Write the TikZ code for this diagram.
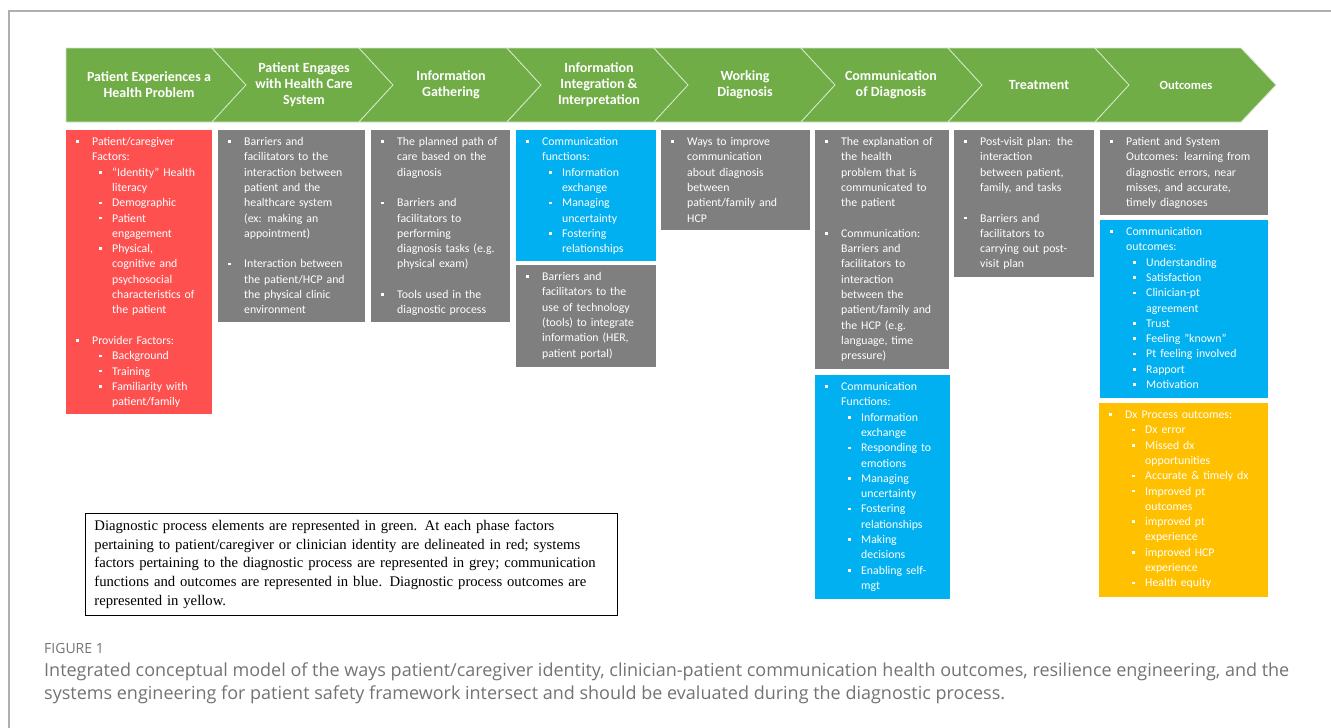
\documentclass[tikz,border=0pt]{standalone}
\usepackage{fontspec}
\setmainfont{Carlito}
\newfontfamily\captionfont{Open Sans}
\newfontfamily\legendfont{Liberation Serif}

\definecolor{chevgreen}{RGB}{112,173,71}
\definecolor{boxgrey}{RGB}{127,127,127}
\definecolor{boxred}{RGB}{255,80,80}
\definecolor{boxblue}{RGB}{0,176,240}
\definecolor{boxyellow}{RGB}{255,192,0}
\definecolor{framegrey}{RGB}{175,175,175}
\definecolor{captiongrey}{RGB}{115,115,115}

% bullets inside the coloured boxes
\newcommand{\bulletmark}{\raisebox{2.6pt}{\rule{2.6pt}{2.6pt}}}
\newcommand{\bul}{\par\leftskip=26pt\noindent\llap{\makebox[16pt][l]{\bulletmark}}}
\newcommand{\subbul}{\par\leftskip=46pt\noindent\llap{\makebox[13pt][l]{\bulletmark}}}
\newcommand{\blankline}{\par\vspace{15.3pt}}

\tikzset{
  chev/.style={fill=chevgreen, draw=white!70!chevgreen, line width=0.8pt},
  headtext/.style={text=white, font=\bfseries\fontsize{14}{16}\selectfont, align=center, inner sep=0pt},
  greybox/.style={fill=boxgrey},
  redbox/.style={fill=boxred},
  bluebox/.style={fill=boxblue},
  yellowbox/.style={fill=boxyellow},
  boxtext/.style={anchor=north west, inner sep=0pt, text=white, align=left,
    font=\fontsize{11.8}{15.3}\selectfont},
}

\begin{document}
\begin{tikzpicture}[x=1pt, y=-1pt]
	\useasboundingbox (0,0) rectangle (1331,728);
	
	% frame
	\draw [framegrey, line width=1.5pt] (1331,11) -- (9,11) -- (9,728);
	
	% chevrons
	\fill [chev] (66,48) -- (212,48) -- (246,85) -- (212,122) -- (66,122) -- cycle;
	\draw [chev] (212,48) -- (359,48) -- (393,85) -- (359,122) -- (212,122) -- (246,85) -- cycle;
	\draw [chev] (359,48) -- (507,48) -- (541,85) -- (507,122) -- (359,122) -- (393,85) -- cycle;
	\draw [chev] (507,48) -- (654,48) -- (688,85) -- (654,122) -- (507,122) -- (541,85) -- cycle;
	\draw [chev] (654,48) -- (801,48) -- (835,85) -- (801,122) -- (654,122) -- (688,85) -- cycle;
	\draw [chev] (801,48) -- (948,48) -- (982,85) -- (948,122) -- (801,122) -- (835,85) -- cycle;
	\draw [chev] (948,48) -- (1095,48) -- (1129,85) -- (1095,122) -- (948,122) -- (982,85) -- cycle;
	\draw [chev] (1095,48) -- (1241,48) -- (1276,85) -- (1241,122) -- (1095,122) -- (1129,85) -- cycle;
	
	% phase names
	\node [headtext] (experience) at (149,85) {Patient Experiences a\\Health Problem};
	\node [headtext] (engage) at (304,85) {Patient Engages\\with Health Care\\System};
	\node [headtext] (gathering) at (451,85) {Information\\Gathering};
	\node [headtext] (integration) at (599,85) {Information\\Integration \&\\Interpretation};
	\node [headtext] (working) at (745,85) {Working\\Diagnosis};
	\node [headtext] (communication) at (891,85) {Communication\\of Diagnosis};
	\node [headtext] (treatment) at (1039,85) {Treatment};
	\node [headtext, font=\bfseries\fontsize{12.5}{14}\selectfont] (outcomes) at (1186,85) {Outcomes};
	
	% boxes
	\fill [redbox] (66,130) rectangle (212,414);  % identity factors
	\node [boxtext, text width=146pt] (factors) at (66,130) {%
		\bul Patient/caregiver\newline Factors:
		\subbul ``Identity'' Health\newline literacy
		\subbul Demographic
		\subbul Patient\newline engagement
		\subbul Physical,\newline cognitive and\newline psychosocial\newline characteristics of\newline the patient
		\blankline
		\bul Provider Factors:
		\subbul Background
		\subbul Training
		\subbul Familiarity with\newline patient/family\par};
	
	\fill [greybox] (218,130) rectangle (365,322);  % system access
	\node [boxtext, text width=147pt] (access) at (218,130) {%
		\bul Barriers and\newline facilitators to the\newline interaction between\newline patient and the\newline healthcare system\newline (ex: making an\newline appointment)
		\blankline
		\bul Interaction between\newline the patient/HCP and\newline the physical clinic\newline environment\par};
	
	\fill [greybox] (371,130) rectangle (510,322);  % gathering
	\node [boxtext, text width=139pt] (tasks) at (371,130) {%
		\bul The planned path of\newline care based on the\newline diagnosis
		\blankline
		\bul Barriers and\newline facilitators to\newline performing\newline diagnosis tasks (e.g.\newline physical exam)
		\blankline
		\bul Tools used in the\newline diagnostic process\par};
	
	\fill [bluebox] (516,130) rectangle (656,261);  % integration, communication
	\node [boxtext, text width=140pt] (functions) at (516,130) {%
		\bul Communication\newline functions:
		\subbul Information\newline exchange
		\subbul Managing\newline uncertainty
		\subbul Fostering\newline relationships\par};
	
	\fill [greybox] (516,265) rectangle (656,367);  % integration, technology
	\node [boxtext, text width=140pt] (technology) at (516,265) {%
		\bul Barriers and\newline facilitators to the\newline use of technology\newline (tools) to integrate\newline information (HER,\newline patient portal)\par};
	
	\fill [greybox] (661,130) rectangle (810,230);  % working diagnosis
	\node [boxtext, text width=149pt] (improve) at (661,130) {%
		\bul Ways to improve\newline communication\newline about diagnosis\newline between\newline patient/family and\newline HCP\par};
	
	\fill [greybox] (815,130) rectangle (949,369);  % explanation
	\node [boxtext, text width=134pt] (explanation) at (815,130) {%
		\bul The explanation of\newline the health\newline problem that is\newline communicated to\newline the patient
		\blankline
		\bul Communication:\newline Barriers and\newline facilitators to\newline interaction\newline between the\newline patient/family and\newline the HCP (e.g.\newline language, time\newline pressure)\par};
	
	\fill [bluebox] (815,375) rectangle (950,599);  % communication functions
	\node [boxtext, text width=135pt] (morefunctions) at (815,375) {%
		\bul Communication\newline Functions:
		\subbul Information\newline exchange
		\subbul Responding to\newline emotions
		\subbul Managing\newline uncertainty
		\subbul Fostering\newline relationships
		\subbul Making\newline decisions
		\subbul Enabling self-\newline mgt\par};
	
	\fill [greybox] (954,130) rectangle (1094,277);  % treatment
	\node [boxtext, text width=140pt] (postvisit) at (954,130) {%
		\bul Post-visit plan: the\newline interaction\newline between patient,\newline family, and tasks
		\blankline
		\bul Barriers and\newline facilitators to\newline carrying out post-\newline visit plan\par};
	
	\fill [greybox] (1100,130) rectangle (1268,215);  % system outcomes
	\node [boxtext, text width=168pt] (system) at (1100,130) {%
		\bul Patient and System\newline Outcomes: learning from\newline diagnostic errors, near\newline misses, and accurate,\newline timely diagnoses\par};
	
	\fill [bluebox] (1100,220) rectangle (1268,398);  % communication outcomes
	\node [boxtext, text width=168pt] (commout) at (1100,220) {%
		\bul Communication\newline outcomes:
		\subbul Understanding
		\subbul Satisfaction
		\subbul Clinician-pt\newline agreement
		\subbul Trust
		\subbul Feeling "known"
		\subbul Pt feeling involved
		\subbul Rapport
		\subbul Motivation\par};
	
	\fill [yellowbox] (1099,403) rectangle (1268,597);  % process outcomes
	\node [boxtext, text width=169pt] (dxout) at (1099,403) {%
		\bul Dx Process outcomes:
		\subbul Dx error
		\subbul Missed dx\newline opportunities
		\subbul Accurate \& timely dx
		\subbul Improved pt\newline outcomes
		\subbul improved pt\newline experience
		\subbul improved HCP\newline experience
		\subbul Health equity\par};
	
	% legend
	\node [draw, line width=0.8pt, anchor=north west, minimum width=532pt, minimum height=102pt,
		text width=514pt, inner xsep=9pt, align=left,
		font=\legendfont\fontsize{14.7}{18.8}\selectfont] (legend) at (85,513) {%
		Diagnostic process elements are represented in green. At each phase factors\\
		pertaining to patient/caregiver or clinician identity are delineated in red; systems\\
		factors pertaining to the diagnostic process are represented in grey; communication\\
		functions and outcomes are represented in blue. Diagnostic process outcomes are\\
		represented in yellow.};
	
	% caption
	\node [anchor=west, inner sep=0pt, text=captiongrey, font=\captionfont\fontsize{14}{16}\selectfont] (figlabel) at (44,648) {FIGURE 1};
	\node [anchor=north west, inner sep=0pt, text=captiongrey, align=left,
		font=\captionfont\fontsize{18}{23}\selectfont] (caption) at (44,663) {%
		Integrated conceptual model of the ways patient/caregiver identity, clinician-patient communication health outcomes, resilience engineering, and the\\
		systems engineering for patient safety framework intersect and should be evaluated during the diagnostic process.};
\end{tikzpicture}
\end{document}
